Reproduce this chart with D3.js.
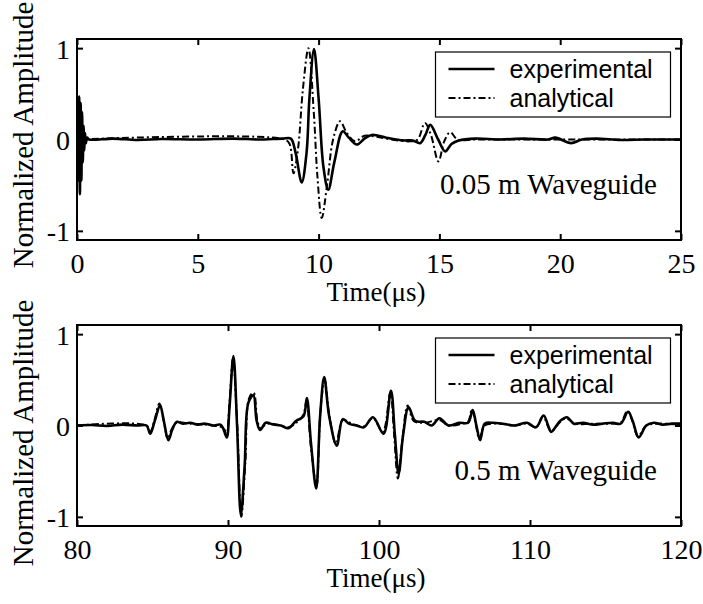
<!DOCTYPE html>
<html>
<head>
<meta charset="utf-8">
<script src="https://cdn.jsdelivr.net/npm/d3@7"></script>
<style>
  body { margin: 0; background: #fff; }
  svg { display: block; }
</style>
</head>
<body>
<div id="chart"></div>
<script>
// data: [time in us, normalized amplitude]
var exp005 = [[0,0],[0.03,0.25],[0.06,-0.45],[0.09,0.47],[0.12,-0.6],[0.15,0.4],[0.18,-0.45],[0.21,0.3],
  [0.24,-0.25],[0.27,0.15],[0.3,-0.12],[0.33,0.07],[0.37,-0.04],[0.42,0.02],[0.5,0],[1.5,0.01],[2.5,-0.005],
  [3.5,0.005],[5,0],[6.5,0.01],[7.5,0],[8.5,0.01],[8.85,0.01],[9.05,-0.15],[9.3,-0.47],[9.5,-0.15],[9.62,0.45],
  [9.81,0.99],[10.0,0.45],[10.2,-0.3],[10.4,-0.55],[10.65,-0.25],[11.0,0.09],[11.25,0.02],[11.58,-0.055],
  [11.9,0.01],[12.2,0.05],[12.8,0.02],[13.5,-0.01],[13.9,-0.01],[14.2,-0.04],[14.42,0.05],[14.62,0.16],
  [14.95,0.0],[15.24,-0.13],[15.5,-0.05],[15.8,-0.01],[16.5,0.01],[17.5,0],[18.5,0.01],[19.5,0.0],[19.8,0.02],
  [20.45,-0.04],[20.9,0.0],[21.5,0.01],[22.5,-0.005],[23.5,0],[25,0]];
var ana005 = [[0,0],[8.6,0],[8.8,-0.05],[8.96,-0.37],[9.15,-0.1],[9.35,0.55],[9.58,1.0],[9.8,0.3],[9.95,-0.4],
  [10.13,-0.86],[10.35,-0.5],[10.6,0.0],[10.89,0.2],[11.15,0.08],[11.5,-0.02],[11.9,0.04],[12.4,0.03],[13,0.0],
  [13.8,-0.02],[14.1,0.0],[14.4,0.18],[14.65,0.05],[14.96,-0.24],[15.2,-0.02],[15.45,0.08],[15.75,0.0],
  [16.5,0],[20,0],[25,0]];
var exp05 = [[80,0],[81,0.005],[82,-0.005],[83,0.01],[84,0],[84.6,0.0],[84.85,-0.09],[85.15,0.05],[85.5,0.22],
  [85.75,0.05],[86.05,-0.16],[86.3,-0.05],[86.6,0.04],[87,0.02],[87.5,0.03],[88,0.01],[88.5,0.02],[89,0.0],
  [89.5,0.01],[89.7,-0.04],[89.92,-0.13],[90.1,0.2],[90.36,0.76],[90.6,0.0],[90.85,-0.98],[91.1,-0.45],
  [91.35,0.25],[91.68,0.33],[91.9,0.05],[92.13,-0.05],[92.5,0.03],[93,0.01],[93.5,0.0],[94.0,-0.03],[94.5,0.05],
  [95.0,0.1],[95.22,0.3],[95.5,-0.2],[95.84,-0.69],[96.1,0.1],[96.37,0.53],[96.7,0.1],[97.2,-0.22],[97.6,0.07],
  [98.0,0.02],[98.5,0.0],[99.0,-0.02],[99.6,0.09],[100.3,-0.09],[100.79,0.38],[101.05,-0.1],[101.3,-0.53],
  [101.6,-0.1],[101.96,0.2],[102.4,0.05],[103,0.04],[103.5,0.0],[104,0.08],[104.6,0.0],[105.3,0.03],[105.9,0.03],
  [106.2,0.17],[106.45,0.0],[106.7,-0.16],[107,0.02],[107.5,0.03],[108.2,0.02],[109,0.0],[109.8,0.03],
  [110.4,-0.02],[110.9,0.11],[111.2,0.0],[111.4,-0.07],[112,0.05],[112.45,0.09],[112.9,0.02],[113.5,0.03],
  [114.2,0.01],[114.8,0.02],[115.5,0.03],[116,0.02],[116.5,0.15],[116.8,0.05],[117.2,-0.13],[117.7,0.0],
  [118.2,0.03],[118.8,0.01],[119.4,0.02],[120,0.02]];
var ana05 = [[80,0],[84.6,0],[84.85,-0.07],[85.15,0.07],[85.45,0.24],[85.75,0.05],[86.0,-0.14],[86.3,-0.03],
  [86.6,0.03],[87.5,0.02],[89,0.0],[89.7,-0.03],[89.9,-0.1],[90.1,0.25],[90.33,0.74],[90.6,0.05],[90.88,-1.0],
  [91.15,-0.4],[91.4,0.3],[91.7,0.36],[91.95,0.05],[92.15,-0.03],[92.6,0.02],[93.5,0.0],[94.0,-0.02],[94.6,0.04],
  [95.0,0.12],[95.2,0.27],[95.5,-0.25],[95.86,-0.66],[96.12,0.15],[96.4,0.5],[96.7,0.12],[97.15,-0.2],
  [97.6,0.06],[98.2,0.02],[99.0,-0.01],[99.6,0.08],[100.25,-0.07],[100.75,0.36],[101.0,-0.1],[101.25,-0.58],
  [101.55,-0.15],[101.9,0.22],[102.3,0.05],[103,0.03],[104,0.06],[104.6,0.0],[105.5,0.02],[105.9,0.04],
  [106.15,0.18],[106.4,0.02],[106.65,-0.15],[107,0.0],[108,0.02],[109,0.0],[109.8,0.02],[110.4,-0.02],
  [110.85,0.1],[111.4,-0.06],[112,0.04],[112.4,0.08],[113,0.02],[114,0.02],[115.5,0.02],[116,0.03],
  [116.45,0.16],[116.8,0.04],[117.15,-0.12],[117.7,0.0],[118.5,0.02],[120,0.01]];

var yTicks = [-1, 0, 1];
var xTicksTop = [0, 5, 10, 15, 20, 25];
var xTicksBottom = [80, 90, 100, 110, 120];
var seriesNames = ["experimental", "analytical"];
var panelLabels = ["0.05 m Waveguide", "0.5 m Waveguide"];

var W = 703, H = 604;
var left = 77, right = 681;
var serif = '"Liberation Serif", "Times New Roman", serif';
var sans = '"Liberation Sans", Arial, sans-serif';
var panels = [
  {top: 39, bottom: 240, xdom: [0, 25], ticks: xTicksTop, exp: exp005, ana: ana005, label: panelLabels[0], ylabelY: 135, textY: 194},
  {top: 325, bottom: 526, xdom: [80, 120], ticks: xTicksBottom, exp: exp05, ana: ana05, label: panelLabels[1], ylabelY: 433, textY: 480}
];

var svg = d3.select("#chart").append("svg")
  .attr("width", W)
  .attr("height", H);

panels.forEach(function(p, i) {
  var x = d3.scaleLinear().domain(p.xdom).range([left, right]);
  var y = d3.scaleLinear().domain([-1.1, 1.1]).range([p.bottom, p.top]);
  var g = svg.append("g");

  g.append("clipPath").attr("id", "clip" + i)
    .append("rect")
    .attr("x", left).attr("y", p.top)
    .attr("width", right - left).attr("height", p.bottom - p.top);

  var line = d3.line()
    .curve(d3.curveCatmullRom.alpha(0.5))
    .x(function(d) { return x(d[0]); })
    .y(function(d) { return y(d[1]); });

  var plot = g.append("g").attr("clip-path", "url(#clip" + i + ")");
  plot.append("path")
    .datum(p.ana)
    .attr("fill", "none")
    .attr("stroke", "#000")
    .attr("stroke-width", 2)
    .attr("stroke-dasharray", "7,3,2,3")
    .attr("d", line);
  plot.append("path")
    .datum(p.exp)
    .attr("fill", "none")
    .attr("stroke", "#000")
    .attr("stroke-width", 2.6)
    .attr("stroke-linejoin", "round")
    .attr("d", line);

  // axes, ticks inward on all sides
  var fmt = function(d) { return String(d); };
  var xb = g.append("g").attr("transform", "translate(0," + p.bottom + ")")
    .call(d3.axisBottom(x).tickValues(p.ticks).tickFormat(fmt).tickSizeInner(-6).tickSizeOuter(0).tickPadding(13));
  var xt = g.append("g").attr("transform", "translate(0," + p.top + ")")
    .call(d3.axisTop(x).tickValues(p.ticks).tickSizeInner(-6).tickSizeOuter(0).tickFormat(""));
  var yl = g.append("g").attr("transform", "translate(" + left + ",0)")
    .call(d3.axisLeft(y).tickValues(yTicks).tickFormat(fmt).tickSizeInner(-6).tickSizeOuter(0).tickPadding(7));
  var yr = g.append("g").attr("transform", "translate(" + right + ",0)")
    .call(d3.axisRight(y).tickValues(yTicks).tickSizeInner(-6).tickSizeOuter(0).tickFormat(""));

  [xb, xt, yl, yr].forEach(function(a) {
    a.attr("font-family", null).attr("font-size", null);
    a.select(".domain").remove();
    a.selectAll(".tick line").attr("stroke", "#000").attr("stroke-width", 2);
    a.selectAll("text")
      .style("font-family", serif)
      .style("font-size", "28px")
      .attr("fill", "#000");
  });
  yl.selectAll("text").attr("dy", "0.36em");

  g.append("rect")
    .attr("x", left).attr("y", p.top)
    .attr("width", right - left).attr("height", p.bottom - p.top)
    .attr("fill", "none").attr("stroke", "#000").attr("stroke-width", 2);

  // axis titles
  g.append("text")
    .style("font-family", serif)
    .style("font-size", "27px")
    .attr("text-anchor", "middle")
    .attr("x", (left + right) / 2 - 3)
    .attr("y", p.bottom + 61)
    .text("Time(\u03bcs)");
  g.append("text")
    .style("font-family", serif)
    .style("font-size", "29px")
    .attr("text-anchor", "middle")
    .attr("transform", "translate(33," + p.ylabelY + ") rotate(-90)")
    .text("Normalized Amplitude");

  // waveguide label
  g.append("text")
    .style("font-family", serif)
    .style("font-size", "29px")
    .attr("text-anchor", "end")
    .attr("x", 657)
    .attr("y", p.textY)
    .text(p.label);

  // legend
  var lx = 435.5, ly = p.top + 13;
  var lg = g.append("g");
  lg.append("rect")
    .attr("x", lx).attr("y", ly)
    .attr("width", 235).attr("height", 65)
    .attr("fill", "#fff").attr("stroke", "#000").attr("stroke-width", 1.2);
  seriesNames.forEach(function(name, k) {
    var ry = ly + 17 + k * 29;
    lg.append("line")
      .attr("x1", lx + 13).attr("x2", lx + 59)
      .attr("y1", ry).attr("y2", ry)
      .attr("stroke", "#000")
      .attr("stroke-width", k === 0 ? 2.4 : 2)
      .attr("stroke-dasharray", k === 0 ? null : "7,3,2,3");
    lg.append("text")
      .style("font-family", sans)
      .style("font-size", "25px")
      .attr("x", lx + 74)
      .attr("y", ry)
      .attr("dy", "0.35em")
      .text(name);
  });
});
</script>
</body>
</html>
